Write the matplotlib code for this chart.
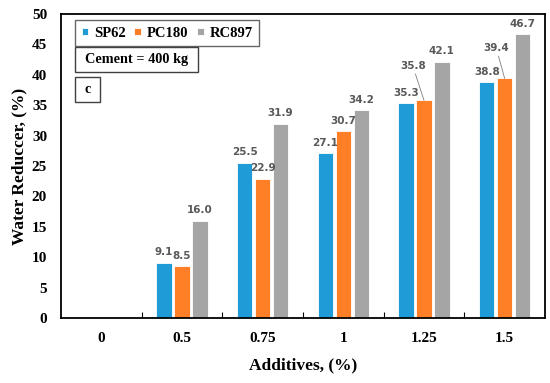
import numpy as np
import matplotlib
matplotlib.use('Agg')
import matplotlib.pyplot as plt
from matplotlib.patches import Rectangle

# Данные
additives = ['0', '0.5', '0.75', '1', '1.25', '1.5']
sp62 = [0, 9.1, 25.5, 27.1, 35.3, 38.8]
pc180 = [0, 8.5, 22.9, 30.7, 35.8, 39.4]
rc897 = [0, 16.0, 31.9, 34.2, 42.1, 46.7]

series = [('SP62', sp62, '#1F9BD8'), ('PC180', pc180, '#FF7F27'), ('RC897', rc897, '#A5A5A5')]
# метки с выносной линией: (серия, индекс) -> смещение в пунктах
leader = {(1, 4): (-8, 21), (1, 5): (-6, 18)}

serif = 'Liberation Serif'
plt.rcParams['font.family'] = serif

fig = plt.figure(figsize=(5.5, 3.83), dpi=100)
ax = fig.add_axes([61 / 550, 1 - 318 / 383, (545 - 61) / 550, (318 - 14) / 383])

x = np.arange(len(additives))
w = 0.19
step = 0.222
for i, (name, vals, col) in enumerate(series):
    pos = x + (i - 1) * step
    ax.bar(pos, vals, w, color=col, edgecolor='white', linewidth=0.6, label=name)
    for j, v in enumerate(vals):
        if v == 0:
            continue
        off = leader.get((i, j))
        if off:
            ax.annotate(f'{v:.1f}', (pos[j], v), xytext=off, textcoords='offset points',
                        ha='center', va='bottom', fontsize=7.5, fontweight='bold',
                        color='#595959', family='DejaVu Sans',
                        arrowprops=dict(arrowstyle='-', color='#7F7F7F', lw=0.6,
                                        shrinkA=0, shrinkB=0))
        else:
            ax.annotate(f'{v:.1f}', (pos[j], v), xytext=(0, 4), textcoords='offset points',
                        ha='center', va='bottom', fontsize=7.5, fontweight='bold',
                        color='#595959', family='DejaVu Sans')

ax.set_xlim(-0.5, len(additives) - 0.5)
ax.set_ylim(0, 50)
ax.set_yticks(np.arange(0, 51, 5))
ax.set_xticks(x)
ax.set_xticklabels(additives)
ax.set_xticks(np.arange(0.5, len(additives) - 0.5, 1), minor=True)
ax.tick_params(axis='x', which='major', length=0, pad=10, labelsize=11)
ax.tick_params(axis='x', which='minor', direction='in', length=4, width=0.8)
ax.tick_params(axis='y', length=0, pad=10, labelsize=11)
for lab in ax.get_xticklabels() + ax.get_yticklabels():
    lab.set_fontweight('bold')
for s in ax.spines.values():
    s.set_linewidth(1.3)

ax.set_xlabel('Additives, (%)', fontsize=12.5, fontweight='bold', labelpad=9)
ax.set_ylabel('Water Reduccer, (%)', fontsize=12.5, fontweight='bold', labelpad=3)

leg = ax.legend(loc='upper left', bbox_to_anchor=(0.029, 0.98), borderaxespad=0, ncol=3,
                frameon=True, fancybox=False, edgecolor='#404040', handlelength=0.45,
                handleheight=0.45, handletextpad=0.4, columnspacing=0.6, borderpad=0.45,
                prop={'family': serif, 'weight': 'bold', 'size': 10.5})
leg.get_frame().set_linewidth(1.0)

# рамки с подписями
for (x0, x1, y0, y1, txt) in [(0.029, 0.283, 0.809, 0.891, 'Cement = 400 kg'),
                              (0.029, 0.081, 0.711, 0.793, 'c')]:
    ax.add_patch(Rectangle((x0, y0), x1 - x0, y1 - y0, transform=ax.transAxes,
                           fc='white', ec='#404040', lw=1.0, zorder=5))
    ax.text((x0 + x1) / 2, (y0 + y1) / 2, txt, transform=ax.transAxes, fontsize=10.3,
            fontweight='bold', ha='center', va='center', zorder=6)

fig.savefig('out.png', dpi=100)
